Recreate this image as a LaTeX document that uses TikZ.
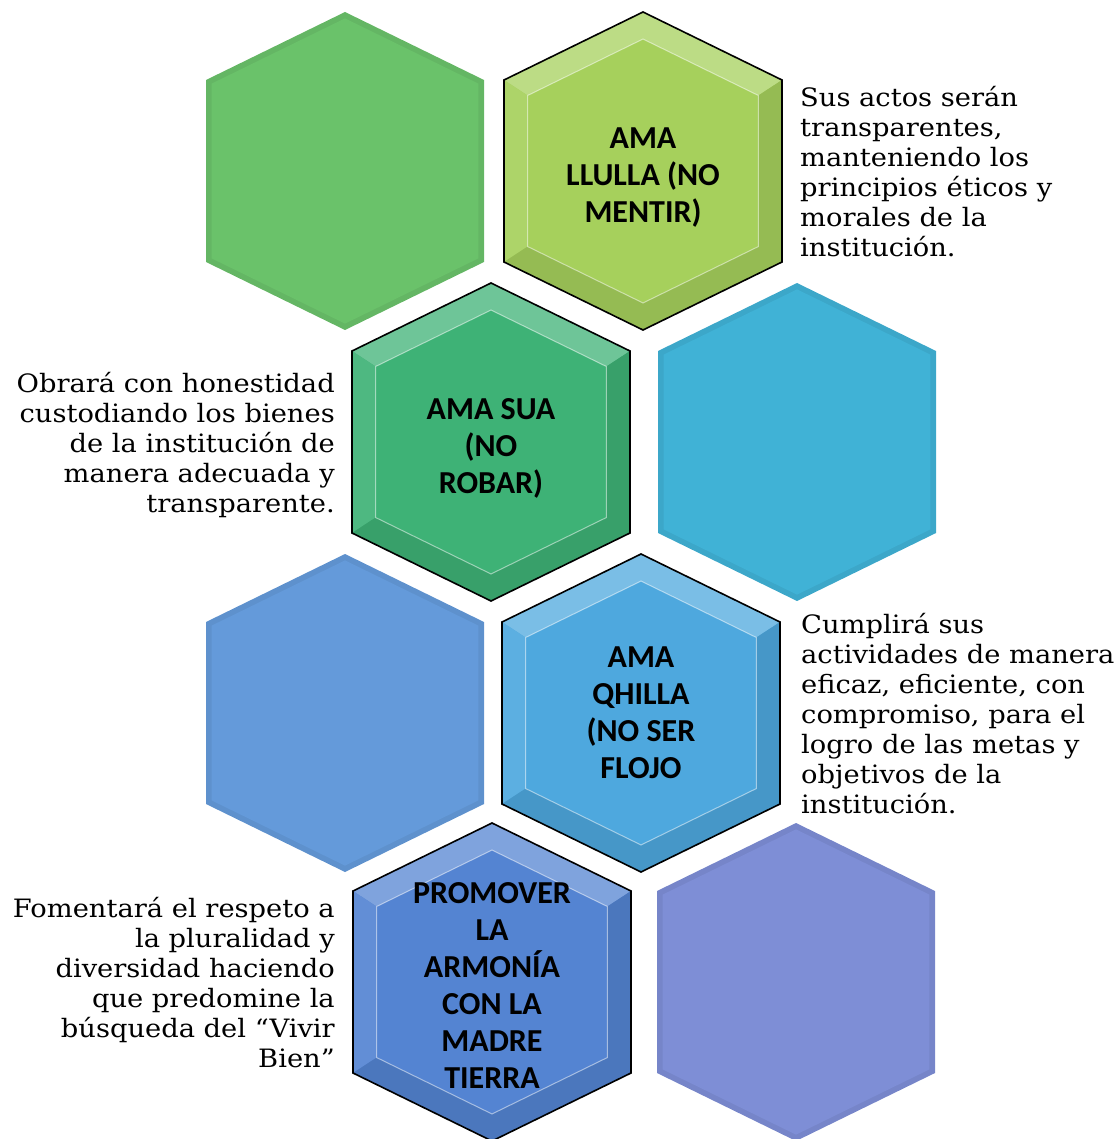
\documentclass[tikz,border=0pt]{standalone}
\usepackage{fontspec}
\usepackage{tikz}
\newfontfamily\descfamily[FakeStretch=1.08]{DejaVu Serif}
\newfontfamily\labelfamily{Carlito}
\definecolor{leafgreen}{RGB}{106,194,106}
\definecolor{limegreen}{RGB}{166,208,92}
\definecolor{seagreen}{RGB}{62,178,118}
\definecolor{skyteal}{RGB}{64,178,214}
\definecolor{softblue}{RGB}{100,154,218}
\definecolor{brightblue}{RGB}{78,168,222}
\definecolor{royalblue}{RGB}{84,132,210}
\definecolor{lavender}{RGB}{126,142,214}
\tikzstyle{hexlabel} = [font=\labelfamily\bfseries\fontsize{32}{37}\selectfont, align=center, inner sep=0pt]
\tikzstyle{desc} = [font=\descfamily\fontsize{25.3}{30}\selectfont, inner sep=0pt]
\tikzstyle{rim} = [draw=black, line width=1.6pt, line join=miter]

% corners of one cell, name / x / y / inset
\newcommand{\hexcorners}[4]{%
  \begin{scope}[shift={(#2,#3)}]
    \foreach \k/\px/\py in {1/0/-159,2/139/-91,3/139/91,4/0/159,5/-139/91,6/-139/-91}{
      \coordinate (#1o\k) at (\px,\py);
      \coordinate (#1i\k) at ({#4*\px},{#4*\py});
    }
  \end{scope}}
% bevelled cell with frame
\newcommand{\hexcell}[4]{%
  \hexcorners{#1}{#2}{#3}{0.83}
  \fill[#4] (#1o1) -- (#1o2) -- (#1o3) -- (#1o4) -- (#1o5) -- (#1o6) -- cycle;
  \fill[#4!75!white] (#1o6) -- (#1o1) -- (#1o2) -- (#1i2) -- (#1i1) -- (#1i6) -- cycle;
  \fill[#4!92!white] (#1o5) -- (#1o6) -- (#1i6) -- (#1i5) -- cycle;
  \fill[#4!90!black] (#1o2) -- (#1o3) -- (#1o4) -- (#1o5) -- (#1i5) -- (#1i4) -- (#1i3) -- (#1i2) -- cycle;
  \draw[white, opacity=0.5, line width=1pt] (#1i1) -- (#1i2) -- (#1i3) -- (#1i4) -- (#1i5) -- (#1i6) -- cycle;
  \draw[rim] (#1o1) -- (#1o2) -- (#1o3) -- (#1o4) -- (#1o5) -- (#1o6) -- cycle;}
% plain cell, soft edge
\newcommand{\plainhex}[4]{%
  \hexcorners{#1}{#2}{#3}{0.96}
  \fill[#4!94!black] (#1o1) -- (#1o2) -- (#1o3) -- (#1o4) -- (#1o5) -- (#1o6) -- cycle;
  \fill[#4] (#1i1) -- (#1i2) -- (#1i3) -- (#1i4) -- (#1i5) -- (#1i6) -- cycle;}

\begin{document}
\begin{tikzpicture}[x=1pt, y=-1pt]
\useasboundingbox (0,0) rectangle (1119,1139);

\plainhex{leaf}{345}{171}{leafgreen}
\hexcell{llulla}{643}{171}{limegreen}
\hexcell{sua}{491}{442}{seagreen}
\plainhex{teal}{797}{442}{skyteal}
\plainhex{blue}{345}{713}{softblue}
\hexcell{qhilla}{641}{713}{brightblue}
\hexcell{promover}{492}{982}{royalblue}
\plainhex{lav}{796}{982}{lavender}

\node (llullatxt) [hexlabel] at (643,178) {AMA\\LLULLA (NO\\MENTIR)};
\node (suatxt) [hexlabel] at (491,448) {AMA SUA\\(NO\\ROBAR)};
\node (qhillatxt) [hexlabel] at (641,713) {AMA\\QHILLA\\(NO SER\\FLOJO};
\node (promovertxt) [hexlabel] at (492,985) {PROMOVER\\LA\\ARMONÍA\\CON LA\\MADRE\\TIERRA};

\node (llulladesc) [desc, anchor=west, align=left] at (800,172) {Sus actos serán\\transparentes,\\manteniendo los\\principios éticos y\\morales de la\\institución.};
\node (suadesc) [desc, anchor=east, align=right] at (335,445) {Obrará con honestidad\\custodiando los bienes\\de la institución de\\manera adecuada y\\transparente.};
\node (qhilladesc) [desc, anchor=west, align=left] at (801,714) {Cumplirá sus\\actividades de manera\\eficaz, eficiente, con\\compromiso, para el\\logro de las metas y\\objetivos de la\\institución.};
\node (promoverdesc) [desc, anchor=east, align=right] at (335,983) {Fomentará el respeto a\\la pluralidad y\\diversidad haciendo\\que predomine la\\búsqueda del “Vivir\\Bien”};
\end{tikzpicture}
\end{document}
